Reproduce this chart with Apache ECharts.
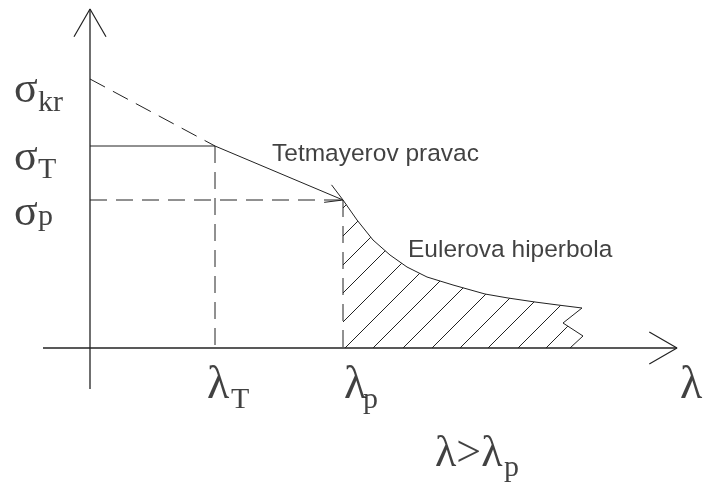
<!DOCTYPE html>
<html>
<head>
<meta charset="utf-8">
<script src="https://cdn.jsdelivr.net/npm/echarts@6/dist/echarts.min.js"></script>
<style>
html,body{margin:0;padding:0;background:#fff}
#chart{width:715px;height:490px}
</style>
</head>
<body>
<div id="chart"></div>
<script>
// diagram units: origin at the axis crossing, 1 unit = 1 px
var lamT = 125, lamP = 253
var sigP = 148, sigT = 202, sigKr = 269
var axisLam = [-47, 587]
var axisSig = [-41, 339]

// Euler hyperbola
var eulerLam = [253, 267, 283, 300, 317, 337, 363, 395, 418, 445, 468, 492]
var eulerSig = [148, 128, 108, 93, 81, 71, 63, 54, 50, 46, 43, 40]
// zig-zag break at the right end of the hatched area
var breakLam = [492, 473, 493, 480]
var breakSig = [40, 25, 12, 0]
// hatch lines: where each one (extended) meets the lambda axis
var hatchFoot = [113, 141, 170, 198, 227, 255, 283, 313, 342, 370, 398, 428, 456]

var sigmaNames = ['kr', 'T', 'p']
var sigmaValues = [sigKr, sigT, sigP]
var lambdaNames = ['T', 'p']
var lambdaValues = [lamT, lamP]

var ink = '#222'
var serif = "'Liberation Serif', 'DejaVu Serif', serif"
var sans = "'Liberation Sans', Arial, sans-serif"

function seg(points, dashed, width) {
    return {
        type: 'line',
        data: points,
        showSymbol: false,
        symbol: 'none',
        silent: true,
        clip: false,
        lineStyle: {color: ink, width: width || 1, type: dashed ? [17, 9] : 'solid'}
    }
}

// open arrow head, units are px so angles work directly
function chevron(tip, from, len, ang) {
    var a = Math.atan2(from[1] - tip[1], from[0] - tip[0])
    return [
        [tip[0] + len * Math.cos(a + ang), tip[1] + len * Math.sin(a + ang)],
        tip,
        [tip[0] + len * Math.cos(a - ang), tip[1] + len * Math.sin(a - ang)]
    ]
}

// boundary of the hatched area (curve then break)
var bound = eulerLam.map(function (l, i) { return [l, eulerSig[i]] })
for (var b = 1; b < breakLam.length; b++) bound.push([breakLam[b], breakSig[b]])

function hatchEnd(c) {
    for (var i = 0; i < bound.length - 1; i++) {
        var p = bound[i], q = bound[i + 1]
        var fp = p[1] - p[0] + c, fq = q[1] - q[0] + c
        if (fp >= 0 && fq < 0) {
            var t = fp / (fp - fq)
            return [p[0] + t * (q[0] - p[0]), p[1] + t * (q[1] - p[1])]
        }
    }
    return null
}

var series = []
// axes
series.push(seg([[axisLam[0], 0], [axisLam[1], 0]], false, 1.3))
series.push(seg([[0, axisSig[0]], [0, axisSig[1]]], false, 1.3))
series.push(seg(chevron([axisLam[1], 0], [0, 0], 32, Math.PI / 6), false, 1.2))
series.push(seg(chevron([0, axisSig[1]], [0, 0], 32, Math.PI / 6), false, 1.2))

// Tetmayer line
series.push(seg([[0, sigKr], [lamT, sigT]], true))
series.push(seg([[lamT, sigT], [lamP, sigP]], false))
series.push(seg(chevron([lamP, sigP], [lamT, sigT], 19, Math.PI / 6), false))

// guides
series.push(seg([[0, sigT], [lamT, sigT]], false))
series.push(seg([[lamT, sigT], [lamT, 0]], true))
series.push(seg([[0, sigP], [lamP, sigP]], true))
series.push(seg([[lamP, sigP], [lamP, 0]], true))

// Euler curve and break
series.push(seg(eulerLam.map(function (l, i) { return [l, eulerSig[i]] }), false))
series.push(seg(breakLam.map(function (l, i) { return [l, breakSig[i]] }), false))

// hatching
hatchFoot.forEach(function (c) {
    var start = c >= lamP ? [c, 0] : [lamP, lamP - c]
    var end = hatchEnd(c)
    if (end) series.push(seg([start, end], false))
})

// text anchored to a data point, shifted by dx/dy px
function txt(at, text, family, size, dx, dy) {
    return {
        value: at,
        label: {
            show: true, position: 'inside', align: 'left', verticalAlign: 'middle',
            offset: [dx, dy], formatter: text,
            fontFamily: family, fontSize: size, lineHeight: size, color: '#111'
        }
    }
}

var labelData = []
var sigDy = [[11, 24], [12, 24], [13, 17]]
sigmaNames.forEach(function (n, i) {
    labelData.push(txt([0, sigmaValues[i]], 'σ', serif, 44, -76, sigDy[i][0]))
    labelData.push(txt([0, sigmaValues[i]], n, serif, 30, -52, sigDy[i][1]))
})
var lamDx = [[-8, 16], [1, 20]]
lambdaNames.forEach(function (n, i) {
    labelData.push(txt([lambdaValues[i], 0], 'λ', serif, 46, lamDx[i][0], 38))
    labelData.push(txt([lambdaValues[i], 0], n, serif, 30, lamDx[i][1], 52))
})
labelData.push(txt([axisLam[1], 0], 'λ', serif, 46, 3, 38))
labelData.push(txt([lamP, 0], 'λ>λ', serif, 44, 92, 106))
labelData.push(txt([lamP, 0], 'p', serif, 30, 161, 120))
labelData.push(txt([lamT, sigT], 'Tetmayerov pravac', sans, 24.5, 57, 8))
labelData.push(txt([lamP, sigP], 'Eulerova hiperbola', sans, 24.5, 65, 50))

series.push({
    type: 'scatter',
    data: labelData,
    symbolSize: 0,
    silent: true,
    clip: false
})

var myChart = echarts.init(document.getElementById('chart'))
var option = {
    animation: false,
    backgroundColor: '#fff',
    grid: {left: 0, right: 0, top: 0, bottom: 0, containLabel: false},
    xAxis: {type: 'value', min: -90, max: 625, show: false},
    yAxis: {type: 'value', min: -142, max: 348, show: false},
    series: series
}
myChart.setOption(option)
window.addEventListener('resize', function () { myChart.resize() })
</script>
</body>
</html>
